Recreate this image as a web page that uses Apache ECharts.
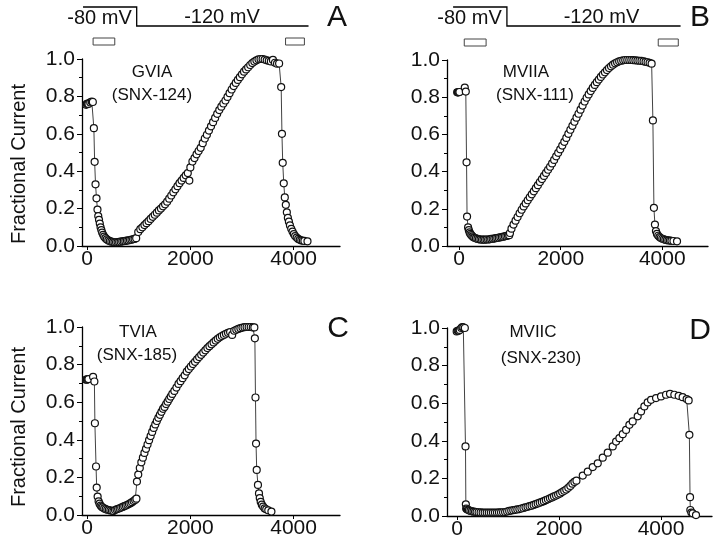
<!DOCTYPE html>
<html><head><meta charset="utf-8">
<script src="https://cdn.jsdelivr.net/npm/echarts@6/dist/echarts.min.js"></script>
<style>html,body{margin:0;padding:0;background:#fff}#c{width:720px;height:537px}</style>
</head><body><div id="c"></div>
<script>
// ---------- data ----------
const xTickLabels = [0, 2000, 4000];
const yTickLabels = [0, 0.2, 0.4, 0.6, 0.8, 1.0];
const yAxisTitle = 'Fractional Current';
const panelLetters = ['A', 'B', 'C', 'D'];
const toxinNames = ['GVIA', 'MVIIA', 'TVIA', 'MVIIC'];
const compoundCodes = ['(SNX-124)', '(SNX-111)', '(SNX-185)', '(SNX-230)'];
const protocolLabels = ['-80 mV', '-120 mV'];
// voltage protocol (ms): start, step to -120 mV, end
const protocolTimesA = [-80, 960, 4290];
const protocolTimesB = [-120, 940, 4360];
// sampling windows (ms)
const sampleWindowsA = [[115, 535], [3845, 4210]];
const sampleWindowsB = [[100, 530], [3920, 4315]];

// [time (ms), fractional current]
const curveA = [[-20,0.755],[-5,0.76],[10,0.762],[25,0.76],[60,0.768],[90,0.772],[110,0.77],
[130,0.63],[145,0.45],[162,0.33],[181,0.255],[200,0.195],[215,0.16],[230,0.14],[245,0.12],[260,0.10],[275,0.085],[290,0.072],[310,0.06],[330,0.05],[355,0.042],[380,0.035],[410,0.03],[440,0.026],[470,0.023],[500,0.021],[530,0.02],[560,0.02],[590,0.021],[620,0.022],[650,0.023],[680,0.025],[710,0.026],[740,0.027],[770,0.029],[800,0.03],[830,0.032],[860,0.034],[890,0.036],[920,0.038],[950,0.042],
[990,0.075],[1030,0.09],[1070,0.10],[1110,0.112],[1150,0.122],[1190,0.133],[1230,0.145],[1270,0.156],[1310,0.167],[1350,0.178],[1390,0.19],[1430,0.20],[1470,0.212],[1510,0.223],[1550,0.237],[1590,0.253],[1630,0.27],[1670,0.287],[1710,0.303],[1750,0.32],[1790,0.336],[1830,0.35],[1870,0.364],[1910,0.378],[1950,0.39],[1980,0.35],[2000,0.42],[2040,0.452],[2080,0.47],[2120,0.49],[2160,0.508],[2200,0.525],[2240,0.55],[2280,0.575],[2320,0.595],[2360,0.617],[2400,0.64],[2440,0.662],[2480,0.685],[2520,0.707],[2560,0.727],[2600,0.745],[2640,0.762],[2680,0.778],[2720,0.797],[2760,0.817],[2800,0.837],[2840,0.855],[2880,0.872],[2920,0.888],[2960,0.903],[3000,0.918],[3040,0.932],[3080,0.944],[3120,0.956],[3160,0.968],[3200,0.978],[3240,0.986],[3280,0.993],[3320,0.998],[3360,1.0],[3400,1.0],[3440,0.997],[3480,0.993],[3520,0.99],[3560,0.987],[3600,0.995],[3640,0.98],[3680,0.975],[3720,0.976],
[3760,0.85],[3775,0.60],[3790,0.445],[3810,0.335],[3830,0.26],[3850,0.22],[3870,0.18],[3890,0.15],[3910,0.13],[3930,0.11],[3955,0.092],[3980,0.077],[4005,0.064],[4030,0.053],[4060,0.045],[4090,0.038],[4120,0.033],[4150,0.03],[4180,0.028],[4210,0.027],[4270,0.025]];

const curveB = [[-40,0.826],[-25,0.826],[-10,0.826],[5,0.828],[110,0.852],[130,0.83],
[145,0.45],[155,0.158],[175,0.10],[190,0.085],[205,0.073],[220,0.065],[240,0.058],[260,0.052],[280,0.047],[300,0.044],[330,0.041],[360,0.038],[390,0.036],[420,0.035],[450,0.034],[480,0.034],[510,0.034],[540,0.035],[570,0.035],[600,0.036],[630,0.038],[660,0.039],[690,0.04],[720,0.042],[750,0.043],[780,0.045],[810,0.047],[840,0.048],[870,0.05],[900,0.052],[930,0.054],[960,0.056],[985,0.058],
[1000,0.07],[1030,0.093],[1070,0.115],[1110,0.136],[1150,0.156],[1190,0.176],[1230,0.195],[1270,0.213],[1310,0.229],[1350,0.246],[1390,0.262],[1430,0.278],[1470,0.294],[1510,0.311],[1550,0.327],[1590,0.344],[1630,0.36],[1670,0.377],[1710,0.393],[1750,0.41],[1790,0.426],[1830,0.444],[1870,0.463],[1910,0.482],[1950,0.501],[1990,0.52],[2030,0.54],[2070,0.56],[2110,0.581],[2150,0.603],[2190,0.625],[2230,0.646],[2270,0.668],[2310,0.69],[2350,0.711],[2390,0.733],[2430,0.755],[2470,0.777],[2510,0.797],[2550,0.815],[2590,0.833],[2630,0.85],[2670,0.866],[2710,0.881],[2750,0.895],[2790,0.909],[2830,0.922],[2870,0.934],[2910,0.946],[2950,0.957],[2990,0.966],[3030,0.975],[3070,0.982],[3110,0.988],[3150,0.993],[3190,0.996],[3230,0.998],[3270,1.0],[3310,1.0],[3350,1.0],[3390,1.0],[3430,0.999],[3470,0.998],[3510,0.997],[3550,0.996],[3590,0.995],[3630,0.993],[3670,0.99],[3710,0.988],[3750,0.985],[3790,0.98],
[3815,0.675],[3835,0.205],[3855,0.115],[3875,0.08],[3895,0.065],[3920,0.055],[3945,0.048],[3970,0.043],[4000,0.039],[4030,0.036],[4060,0.033],[4090,0.031],[4120,0.03],[4150,0.029],[4180,0.028],[4220,0.027],[4290,0.025]];

const curveC = [[-20,0.72],[-5,0.72],[10,0.722],[25,0.723],[115,0.735],[140,0.71],
[150,0.488],[172,0.258],[185,0.146],[203,0.098],[222,0.073],[240,0.06],[260,0.05],[280,0.044],[300,0.04],[330,0.035],[360,0.031],[390,0.028],[420,0.026],[450,0.024],[480,0.022],[510,0.021],[540,0.026],[570,0.03],[600,0.033],[630,0.036],[660,0.04],[690,0.043],[720,0.047],[750,0.05],[780,0.054],[810,0.058],[840,0.063],[870,0.068],[900,0.074],[930,0.08],[955,0.087],
[965,0.178],[990,0.215],[1020,0.25],[1050,0.28],[1080,0.305],[1110,0.33],[1140,0.352],[1170,0.375],[1200,0.398],[1230,0.42],[1260,0.442],[1290,0.463],[1320,0.482],[1350,0.5],[1380,0.517],[1410,0.533],[1440,0.549],[1470,0.565],[1500,0.575],[1530,0.59],[1560,0.603],[1590,0.617],[1620,0.63],[1650,0.644],[1690,0.66],[1730,0.678],[1770,0.697],[1810,0.712],[1850,0.728],[1890,0.743],[1930,0.763],[1970,0.776],[2010,0.79],[2050,0.803],[2090,0.815],[2130,0.828],[2170,0.84],[2210,0.852],[2250,0.864],[2290,0.876],[2330,0.888],[2370,0.898],[2410,0.908],[2450,0.918],[2490,0.928],[2530,0.937],[2570,0.945],[2610,0.952],[2650,0.958],[2690,0.964],[2730,0.969],[2770,0.973],[2810,0.958],[2850,0.98],[2890,0.985],[2930,0.99],[2970,0.994],[3010,0.997],[3050,0.999],[3090,1.0],[3130,1.0],[3170,1.0],[3210,0.998],[3240,0.998],
[3250,0.94],[3262,0.625],[3273,0.38],[3286,0.24],[3310,0.16],[3330,0.115],[3345,0.09],[3363,0.07],[3385,0.055],[3410,0.045],[3440,0.035],[3470,0.03],[3510,0.025],[3571,0.018]];

const curveD = [[-10,0.982],[10,0.985],[30,0.986],[50,0.99],[80,1.0],[100,1.005],[120,1.003],[150,1.0],
[163,0.37],[170,0.062],[176,0.04],[190,0.036],[210,0.033],[230,0.03],[260,0.027],[290,0.025],[320,0.023],[350,0.022],[380,0.021],[420,0.02],[460,0.019],[500,0.018],[540,0.018],[580,0.018],[620,0.018],[660,0.018],[700,0.018],[740,0.018],[780,0.018],[820,0.019],[860,0.019],[900,0.02],[940,0.021],
[980,0.024],[1020,0.027],[1060,0.029],[1100,0.031],[1140,0.033],[1180,0.035],[1220,0.037],[1260,0.04],[1300,0.043],[1340,0.046],[1380,0.049],[1420,0.052],[1460,0.055],[1500,0.059],[1540,0.063],[1580,0.067],[1620,0.071],[1660,0.075],[1700,0.079],[1740,0.084],[1780,0.089],[1820,0.094],[1860,0.099],[1900,0.104],[1940,0.109],[1980,0.114],[2020,0.12],[2060,0.127],[2100,0.134],[2140,0.141],[2180,0.15],[2220,0.16],[2260,0.172],[2300,0.181],[2340,0.188],
[2464,0.215],[2562,0.236],[2660,0.26],[2758,0.28],[2856,0.31],[2954,0.337],[3052,0.37],[3118,0.396],[3183,0.414],[3249,0.435],[3314,0.458],[3379,0.485],[3444,0.503],[3542,0.53],[3608,0.556],[3673,0.583],[3738,0.604],[3804,0.618],[3902,0.627],[4000,0.636],[4098,0.645],[4176,0.65],[4261,0.645],[4346,0.639],[4424,0.632],[4503,0.622],[4542,0.615],
[4556,0.432],[4569,0.10],[4575,0.032],[4595,0.018],[4621,0.014],[4686,0.005]];

// ---------- layout ----------
const FONT = 'Liberation Sans';
const INK = '#111';
const panels = [
  {grid:{left:82, top:59, width:258, height:187}, xMin:-100, xMax:4900, data:curveA,
   name:[152,72], code:[152,95], letter:[337,18]},
  {grid:{left:447, top:60, width:261, height:186}, xMin:-240, xMax:4900, data:curveB,
   name:[526,72], code:[535,95], letter:[700,18]},
  {grid:{left:82, top:327, width:258, height:188}, xMin:-100, xMax:4900, data:curveC,
   name:[138,332], code:[137,355], letter:[338,329]},
  {grid:{left:447, top:328, width:265, height:188}, xMin:-200, xMax:5000, data:curveD,
   name:[533,332], code:[541,358], letter:[700,331]}
];

const chart = echarts.init(document.getElementById('c'), null, {renderer:'canvas'});
const grids = [], xAxes = [], yAxes = [], series = [];
panels.forEach((p, i) => {
  grids.push(Object.assign({containLabel:false, outerBoundsMode:'none'}, p.grid));
  xAxes.push({type:'value', gridIndex:i, min:p.xMin, max:p.xMax,
    axisLine:{show:true, onZero:false, lineStyle:{color:'#000', width:1.3}},
    axisTick:{show:true, customValues:xTickLabels, length:4, lineStyle:{color:'#000', width:1}},
    axisLabel:{customValues:xTickLabels, formatter:v => String(v), fontSize:21, fontFamily:FONT, color:INK, margin:3},
    splitLine:{show:false}});
  yAxes.push({type:'value', gridIndex:i, min:0, max:1, interval:0.2,
    axisLine:{show:true, onZero:false, lineStyle:{color:'#000', width:1.3}},
    axisTick:{show:true, length:5, lineStyle:{color:'#000', width:1}},
    minorTick:{show:true, splitNumber:2, length:3, lineStyle:{color:'#000', width:1}},
    axisLabel:{customValues:yTickLabels, formatter:v => v.toFixed(1), fontSize:21, fontFamily:FONT, color:INK, margin:7},
    splitLine:{show:false}});
  series.push({type:'line', xAxisIndex:i, yAxisIndex:i, data:p.data,
    symbol:'circle', symbolSize:7, showAllSymbol:true, clip:false,
    lineStyle:{color:'#111', width:0.8},
    itemStyle:{color:'#fff', borderColor:'#111', borderWidth:1.2},
    emphasis:{disabled:true}, animation:false});
});

chart.setOption({animation:false, backgroundColor:'#fff', grid:grids, xAxis:xAxes, yAxis:yAxes, series:series});

// ---------- annotations ----------
function txt(s, x, y, size, extra) {
  return Object.assign({type:'text', x:x, y:y, z:10, style:{text:s, font:size + 'px "' + FONT + '"', fill:INK,
    align:'center', verticalAlign:'middle', textAlign:'center', textVerticalAlign:'middle'}}, extra || {});
}
const g = [];
panels.forEach((p, i) => {
  g.push(txt(toxinNames[i], p.name[0], p.name[1], 17));
  g.push(txt(compoundCodes[i], p.code[0], p.code[1], 17));
  g.push(txt(panelLetters[i], p.letter[0], p.letter[1], 30));
});
g.push(txt(yAxisTitle, 19, 164, 20, {rotation:Math.PI / 2}));
g.push(txt(yAxisTitle, 19, 427, 20, {rotation:Math.PI / 2}));

const protos = [
  {axis:0, times:protocolTimesA, windows:sampleWindowsA, lab80:[99.5,18], lab120:[222,17], boxY:38},
  {axis:1, times:protocolTimesB, windows:sampleWindowsB, lab80:[469.5,18], lab120:[601.5,17], boxY:39}
];
protos.forEach(pr => {
  const px = t => chart.convertToPixel({xAxisIndex:pr.axis}, t);
  const x0 = px(pr.times[0]), xs = px(pr.times[1]), xe = px(pr.times[2]);
  g.push({type:'polyline', z:10, shape:{points:[[x0,7],[xs,7],[xs,26],[xe,26]]},
    style:{stroke:'#000', lineWidth:1.3, fill:null}});
  pr.windows.forEach(w => {
    const a = px(w[0]), b = px(w[1]);
    g.push({type:'rect', z:10, shape:{x:a, y:pr.boxY, width:b - a, height:7},
      style:{fill:'#fff', stroke:'#444', lineWidth:1}});
  });
  g.push(txt(protocolLabels[0], pr.lab80[0], pr.lab80[1], 20));
  g.push(txt(protocolLabels[1], pr.lab120[0], pr.lab120[1], 20));
});
chart.setOption({graphic:g});
</script>
</body></html>
